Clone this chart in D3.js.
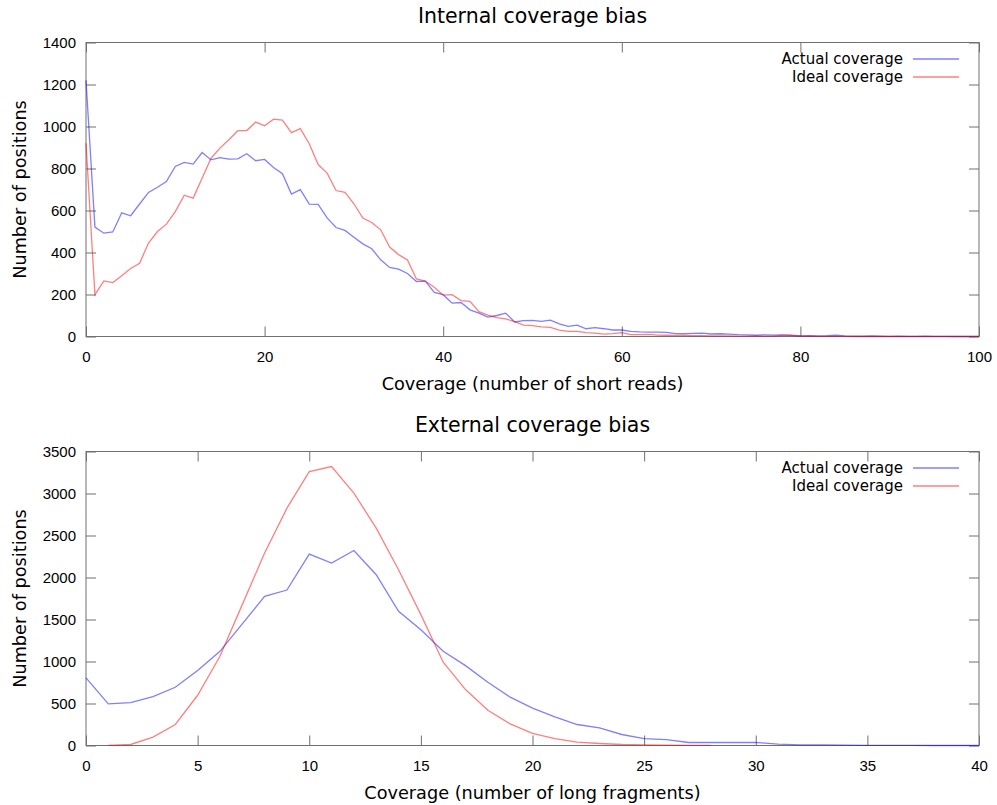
<!DOCTYPE html>
<html>
<head>
<meta charset="utf-8">
<script src="https://cdn.jsdelivr.net/npm/d3@7"></script>
<style>
  body { margin: 0; background: #fff; }
  svg { font-family: "DejaVu Sans", sans-serif; }
  .frame { fill: none; stroke: #707070; stroke-width: 1; }
  .tick line { stroke: #707070; }
  .tick text { font-size: 15px; fill: #000; }
  .title { font-size: 20.5px; }
  .label { font-size: 17.7px; }
  .legend { font-size: 15px; }
  .series { fill: none; stroke-width: 1.3; stroke-opacity: 0.5; }
</style>
</head>
<body>
<div id="graph-container"></div>
<script>
// internal coverage (short reads), x = 0..100
const internalX = d3.range(0, 101);
const internalActual = [1220, 521, 492, 498, 589, 575, 631, 686, 711, 738,
  810, 829, 821, 876, 841, 852, 845, 846, 870, 837,
  843, 805, 775, 678, 699, 630, 629, 565, 519, 505,
  473, 441, 418, 365, 329, 321, 300, 262, 264, 210,
  199, 159, 162, 127, 111, 92, 100, 111, 69, 76,
  77, 72, 78, 60, 48, 54, 37, 42, 37, 31,
  31, 24, 22, 21, 21, 20, 14, 13, 15, 16,
  12, 13, 11, 9, 8, 6, 8, 7, 8, 5,
  3, 4, 3, 4, 6, 3, 2, 2, 3, 2,
  1, 2, 1, 1, 2, 1, 1, 0, 1, 0, 1];
const internalIdeal = [921, 199, 265, 257, 289, 324, 349, 445, 500, 535,
  595, 673, 659, 754, 849, 897, 937, 980, 981, 1021,
  1003, 1035, 1030, 971, 990, 918, 819, 778, 695, 686,
  632, 564, 543, 508, 426, 390, 365, 274, 264, 235,
  197, 199, 171, 167, 118, 102, 90, 84, 71, 54,
  52, 46, 43, 30, 24, 24, 18, 16, 11, 14,
  18, 9, 9, 10, 7, 6, 5, 5, 4, 4,
  3, 3, 3, 2, 2, 3, 2, 2, 5, 6,
  3, 2, 1, 1, 1, 1, 0, 0, 0, 0,
  0, 0, 0, 0, 0, 0, 0, 0, 0, 0, 0];
const internalXTicks = [0, 20, 40, 60, 80, 100];
const internalYTicks = [0, 200, 400, 600, 800, 1000, 1200, 1400];

// external coverage (long fragments), x = 0..40
const externalX = d3.range(0, 41);
const externalActual = [805, 496, 511, 583, 693, 892, 1121, 1447, 1775, 1851,
  2279, 2172, 2322, 2033, 1597, 1379, 1121, 951, 753, 575,
  445, 341, 250, 210, 131, 83, 71, 36, 36, 36,
  36, 16, 8, 8, 4, 2, 1, 1, 0, 0, 0];
const externalIdealX = d3.range(1, 29);
const externalIdeal = [2, 12, 99, 250, 598, 1062, 1677, 2291, 2826, 3261,
  3321, 3004, 2588, 2093, 1558, 991, 666, 420, 258, 145,
  83, 40, 24, 12, 8, 4, 2, 1];
const externalXTicks = [0, 5, 10, 15, 20, 25, 30, 35, 40];
const externalYTicks = [0, 500, 1000, 1500, 2000, 2500, 3000, 3500];

const seriesNames = ['Actual coverage', 'Ideal coverage'];
const seriesColors = ['#0000ff', '#ff0000'];

const width = 997;
const height = 805;
const plotLeft = 86;
const plotRight = 979;

document.addEventListener('DOMContentLoaded', function() {
  let svg = d3.select('#graph-container')
              .append('svg')
              .attr('width', width)
              .attr('height', height);

  drawPanel(svg, {
    top: 42.5, bottom: 336.5,
    xMax: 100, yMax: 1400,
    xTicks: internalXTicks, yTicks: internalYTicks,
    title: 'Internal coverage bias',
    xLabel: 'Coverage (number of short reads)',
    series: [
      {x: internalX, y: internalActual},
      {x: internalX, y: internalIdeal}
    ]
  });

  drawPanel(svg, {
    top: 451.5, bottom: 745.5,
    xMax: 40, yMax: 3500,
    xTicks: externalXTicks, yTicks: externalYTicks,
    title: 'External coverage bias',
    xLabel: 'Coverage (number of long fragments)',
    series: [
      {x: externalX, y: externalActual},
      {x: externalIdealX, y: externalIdeal}
    ]
  });
});

function drawPanel(svg, cfg) {
  let x = d3.scaleLinear().domain([0, cfg.xMax]).range([plotLeft, plotRight]);
  let y = d3.scaleLinear().domain([0, cfg.yMax]).range([cfg.bottom, cfg.top]);
  let g = svg.append('g');

  // ticks point inwards on all four sides, labels only bottom/left
  addAxis(g, d3.axisBottom(x).tickValues(cfg.xTicks), 0, cfg.bottom, 15);
  addAxis(g, d3.axisTop(x).tickValues(cfg.xTicks), 0, cfg.top, 0);
  addAxis(g, d3.axisLeft(y).tickValues(cfg.yTicks), plotLeft, 0, 10);
  addAxis(g, d3.axisRight(y).tickValues(cfg.yTicks), plotRight, 0, 0);

  g.append('rect')
   .attr('class', 'frame')
   .attr('x', plotLeft)
   .attr('y', cfg.top)
   .attr('width', plotRight - plotLeft)
   .attr('height', cfg.bottom - cfg.top);

  let line = (s) => d3.line()
                      .x((d, i) => x(s.x[i]))
                      .y((d) => y(d))(s.y);

  cfg.series.forEach(function(s, i) {
    g.append('path')
     .attr('class', 'series')
     .attr('stroke', seriesColors[i])
     .attr('d', line(s));
  });

  // legend in top right corner
  seriesNames.forEach(function(name, i) {
    let ly = cfg.top + 16.5 + i * 18;
    g.append('text')
     .attr('class', 'legend')
     .attr('text-anchor', 'end')
     .attr('x', 903)
     .attr('y', ly + 5)
     .text(name);
    g.append('line')
     .attr('class', 'series')
     .attr('stroke', seriesColors[i])
     .attr('x1', 913)
     .attr('x2', 959)
     .attr('y1', ly)
     .attr('y2', ly);
  });

  g.append('text')
   .attr('class', 'title')
   .attr('text-anchor', 'middle')
   .attr('x', (plotLeft + plotRight) / 2)
   .attr('y', cfg.top - 19.5)
   .text(cfg.title);

  g.append('text')
   .attr('class', 'label')
   .attr('text-anchor', 'middle')
   .attr('x', (plotLeft + plotRight) / 2)
   .attr('y', cfg.bottom + 53.5)
   .text(cfg.xLabel);

  g.append('text')
   .attr('class', 'label')
   .attr('text-anchor', 'middle')
   .attr('transform', 'rotate(-90)')
   .attr('x', -(cfg.top + cfg.bottom) / 2)
   .attr('y', 26)
   .text('Number of positions');
}

// padding 0 means a mirror axis: ticks only, no labels
function addAxis(g, axis, tx, ty, padding) {
  axis.tickSizeInner(-10).tickSizeOuter(0).tickPadding(padding);
  axis.tickFormat(padding ? d3.format('d') : '');
  let a = g.append('g')
           .attr('transform', 'translate(' + tx + ',' + ty + ')')
           .call(axis);
  a.select('.domain').remove();
  a.selectAll('text').attr('font-family', null).attr('font-size', null);
  return a;
}
</script>
</body>
</html>
